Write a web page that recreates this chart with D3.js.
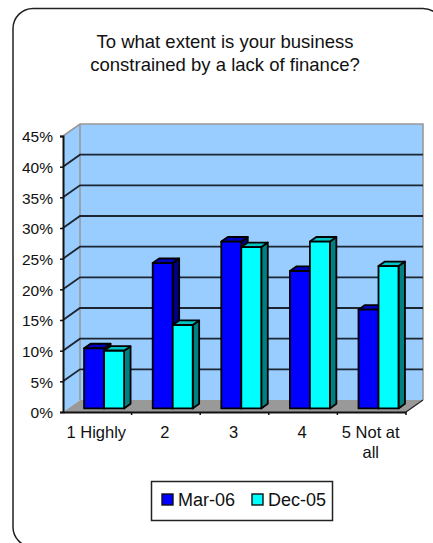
<!DOCTYPE html>
<html>
<head>
<meta charset="utf-8">
<script src="https://d3js.org/d3.v7.min.js"></script>
<style>
html,body{margin:0;padding:0;background:#fff;}
svg{display:block;}
text{font-family:"Liberation Sans",Arial,sans-serif;fill:#111;}
</style>
</head>
<body>
<svg id="chart" width="433" height="543"></svg>
<script>
const categories = ["1 Highly", "2", "3", "4", "5 Not at all"];
const mar06 = [9.8, 23.7, 27.2, 22.4, 16.1];
const dec05 = [9.4, 13.6, 26.3, 27.2, 23.2];
const seriesNames = ["Mar-06", "Dec-05"];
const seriesValues = [mar06, dec05];
const yTicks = [0, 5, 10, 15, 20, 25, 30, 35, 40, 45];
const titleLines = ["To what extent is your business", "constrained by a lack of finance?"];

const faceColors = ["#0000ff", "#00ffff"];
const topColors = ["#0000c0", "#00c4c4"];
const sideColors = ["#000080", "#008080"];

const svg = d3.select("#chart");
const depthX = 17, depthY = 12;

const x = d3.scaleBand().domain(categories).range([63, 406]);
const y = d3.scaleLinear().domain([0, 45]).range([412, 136]);
const seriesX = d3.scaleBand().domain(d3.range(seriesNames.length)).range([16, 56]);

// Oblique projection: z = 0 is the front plane, z = 1 the back wall.
const px = (v, z) => v + depthX * z;
const py = (v, z) => y(v) - depthY * z;
const poly = pts => pts.map(p => p.join(",")).join(" ");

// Outer rounded frame, running off the right and bottom edges
svg.append("rect").attr("x", 13).attr("y", 8.5).attr("width", 430).attr("height", 538.5)
  .attr("rx", 20).attr("fill", "#fff").attr("stroke", "#222").attr("stroke-width", 1.5);

// Title
svg.append("g").selectAll("text").data(titleLines).join("text")
  .attr("x", 225).attr("y", (d, i) => 47.5 + i * 23.5)
  .attr("text-anchor", "middle").attr("font-size", 18.5).text(d => d);

const [x0, x1] = x.range();

// Back wall, side wall, floor
svg.append("polygon").attr("fill", "#99ccff")
  .attr("points", poly([[x0, py(0, 0)], [x0, py(45, 0)], [px(x0, 1), py(45, 1)], [px(x0, 1), py(0, 1)]]));
svg.append("rect").attr("x", px(x0, 1)).attr("y", py(45, 1))
  .attr("width", x1 - x0).attr("height", y(0) - y(45)).attr("fill", "#99ccff");
svg.append("polygon").attr("fill", "#999999")
  .attr("points", poly([[x0, py(0, 0)], [px(x0, 1), py(0, 1)], [px(x1, 1), py(0, 1)], [x1, py(0, 0)]]));

// Wall outline
svg.append("path").attr("fill", "none").attr("stroke", "#999").attr("stroke-width", 1.6)
  .attr("d", `M${x0},${py(45, 0)}L${px(x0, 1)},${py(45, 1)}L${px(x1, 1)},${py(45, 1)}L${px(x1, 1)},${py(0, 1)}M${px(x0, 1)},${py(45, 1)}L${px(x0, 1)},${py(0, 1)}`);

// Gridlines across the back wall and down the side wall
const gridTicks = yTicks.filter(t => t > 0 && t < 45);
svg.append("g").selectAll("path").data(gridTicks).join("path")
  .attr("fill", "none").attr("stroke", "#1c2430").attr("stroke-width", 1.8)
  .attr("d", t => `M${x0},${py(t, 0)}L${px(x0, 1)},${py(t, 1)}L${px(x1, 1)},${py(t, 1)}`);

// Bars, three visible faces each
const bars = [];
categories.forEach((c, ci) => seriesValues.forEach((vals, si) => {
  bars.push({ c, si, v: vals[ci] });
}));
const barFront = 0.3, barBack = 0.68;
const barG = svg.append("g").selectAll("g").data(bars).join("g")
  .attr("stroke", "#000").attr("stroke-width", 1.8).attr("stroke-linejoin", "round");
const left = d => x(d.c) + seriesX(d.si);
const right = d => left(d) + seriesX.bandwidth();
barG.append("polygon").attr("fill", d => sideColors[d.si]).attr("points", d => poly([
  [px(right(d), barFront), py(0, barFront)], [px(right(d), barFront), py(d.v, barFront)],
  [px(right(d), barBack), py(d.v, barBack)], [px(right(d), barBack), py(0, barBack)]]));
barG.append("polygon").attr("fill", d => topColors[d.si]).attr("points", d => poly([
  [px(left(d), barFront), py(d.v, barFront)], [px(right(d), barFront), py(d.v, barFront)],
  [px(right(d), barBack), py(d.v, barBack)], [px(left(d), barBack), py(d.v, barBack)]]));
barG.append("polygon").attr("fill", d => faceColors[d.si]).attr("points", d => poly([
  [px(left(d), barFront), py(0, barFront)], [px(left(d), barFront), py(d.v, barFront)],
  [px(right(d), barFront), py(d.v, barFront)], [px(right(d), barFront), py(0, barFront)]]));

// Right edge of the floor
svg.append("line").attr("x1", x1).attr("y1", py(0, 0)).attr("x2", px(x1, 1)).attr("y2", py(0, 1))
  .attr("stroke", "#222").attr("stroke-width", 1.2);

// Value axis
const yAxis = d3.axisLeft(y).tickValues(yTicks).tickFormat(d => d + "%").tickSize(3).tickPadding(7);
const yG = svg.append("g").attr("transform", `translate(${x0},0)`).call(yAxis);
yG.select(".domain").attr("stroke", "#111").attr("stroke-width", 2);
yG.selectAll(".tick line").attr("stroke", "#111").attr("stroke-width", 1.5);
yG.selectAll("text").attr("font-size", 15.5).attr("dy", "0.38em")
  .attr("font-family", '"Liberation Sans",Arial,sans-serif').attr("fill", "#111");

// Category axis with ticks on the band boundaries
const xAxis = d3.axisBottom(x).tickSize(0).tickFormat("");
const xG = svg.append("g").attr("transform", `translate(0,${y(0)})`).call(xAxis);
xG.select(".domain").attr("stroke", "#111").attr("stroke-width", 2);
xG.append("g").selectAll("line").data(categories).join("line")
  .attr("x1", d => x(d) + x.bandwidth()).attr("x2", d => x(d) + x.bandwidth())
  .attr("y1", 0).attr("y2", 3).attr("stroke", "#111").attr("stroke-width", 1.5);

// Category labels; the last one wraps onto a second line
const labelLines = { "5 Not at all": ["5 Not at", "all"] };
const labelG = svg.append("g").selectAll("text").data(categories).join("text")
  .attr("text-anchor", "middle").attr("font-size", 16.5)
  .attr("transform", d => `translate(${x(d) + x.bandwidth() / 2 - 1},438)`);
labelG.selectAll("tspan").data(d => labelLines[d] || [d]).join("tspan")
  .attr("x", 0).attr("y", (d, i) => i * 20).text(d => d);

// Legend
svg.append("rect").attr("x", 151.5).attr("y", 481.5).attr("width", 181).attr("height", 39)
  .attr("fill", "#fff").attr("stroke", "#222").attr("stroke-width", 1.5);
const legendX = [162, 252];
const leg = svg.append("g").selectAll("g").data(seriesNames).join("g")
  .attr("transform", (d, i) => `translate(${legendX[i]},494)`);
leg.append("rect").attr("width", 11).attr("height", 11).attr("fill", (d, i) => faceColors[i])
  .attr("stroke", "#111").attr("stroke-width", 1.4);
leg.append("text").attr("x", 16).attr("y", 12).attr("font-size", 18).text(d => d);
</script>
</body>
</html>
